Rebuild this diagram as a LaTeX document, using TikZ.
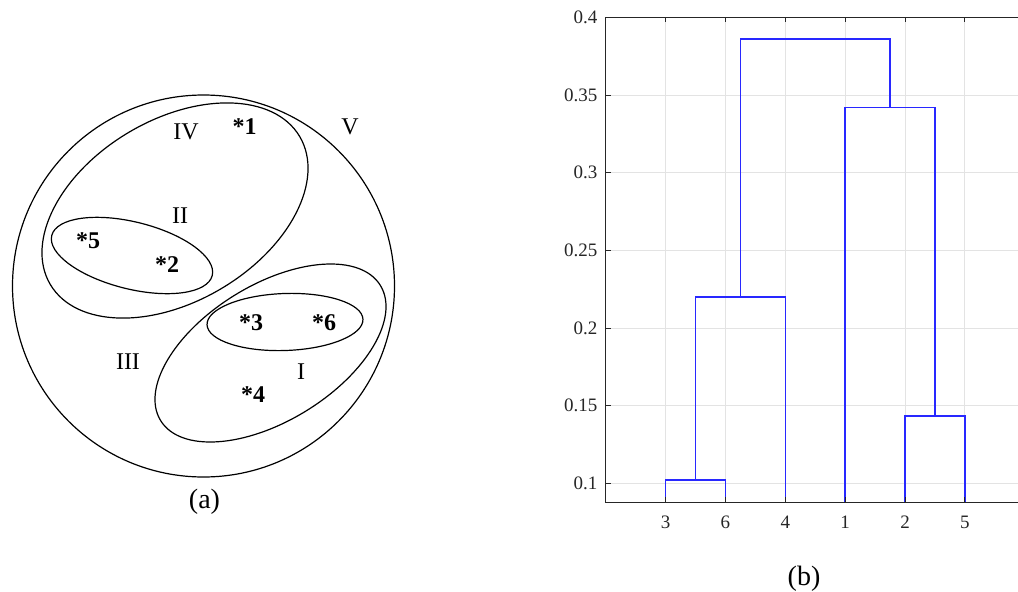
\documentclass[tikz,border=0pt]{standalone}
\usepackage{fontspec}
\setmainfont{Liberation Serif}
\definecolor{dendblue}{RGB}{40,40,255}
\begin{document}
\begin{tikzpicture}[x=1pt,y=-1pt,
  lbl/.style={font=\fontsize{24}{28}\selectfont, inner sep=0pt},
  pt/.style={font=\bfseries\fontsize{24}{28}\selectfont, inner sep=0pt},
  captxt/.style={font=\fontsize{28}{32}\selectfont, inner sep=0pt},
  setline/.style={draw=black, line width=1.2pt},
  ticklbl/.style={font=\fontsize{19}{22}\selectfont, text=black!85, inner sep=0pt},
  gridline/.style={draw=black!11, line width=0.8pt},
  dend/.style={draw=dendblue, line width=1.5pt},
  axisline/.style={draw=black!85, line width=1pt}]
\useasboundingbox (0,0) rectangle (1018,592);
% ---------- (a) ----------
\draw[setline] (203.5,286) circle (191);
\draw[setline, shift={(175,210.5)}, rotate=30.7] (0,0) ellipse (145 and 90.8);
\draw[setline, shift={(132,255.5)}, rotate=-14] (0,0) ellipse (82.7 and 33.5);
\draw[setline, shift={(270.5,353)}, rotate=31.6] (0,0) ellipse (129 and 68);
\draw[setline, shift={(285,322)}, rotate=2] (0,0) ellipse (78 and 28.5);
\node[lbl] (lIV) at (186,131.5) {IV};
\node[pt] (p1) at (244.5,127) {*1};
\node[lbl] (lV) at (350,127) {V};
\node[lbl] (lII) at (180,216) {II};
\node[pt] (p5) at (88,241) {*5};
\node[pt] (p2) at (167,265) {*2};
\node[lbl] (lIII) at (128,362) {III};
\node[pt] (p3) at (251,323) {*3};
\node[pt] (p6) at (324,323) {*6};
\node[lbl] (lI) at (301,372) {I};
\node[pt] (p4) at (253,395) {*4};
\node[captxt] (capa) at (204.5,501.5) {(a)};
% ---------- (b) ----------
\foreach \x in {665.5,725.4,785.3,845.1,905,964.8}
  \draw[gridline] (\x,17) -- (\x,502.3);
\foreach \y in {95.3,172.3,250,328.3,405.7,483}
  \draw[gridline] (605.7,\y) -- (1018,\y);
% dendrogram
\draw[dend] (665.5,502.3) -- (665.5,480) -- (725.4,480) -- (725.4,502.3);
\draw[dend] (695.45,480) -- (695.45,297.2) -- (785.3,297.2) -- (785.3,502.3);
\draw[dend] (905,502.3) -- (905,416.2) -- (964.8,416.2) -- (964.8,502.3);
\draw[dend] (845.1,502.3) -- (845.1,107.6) -- (934.9,107.6) -- (934.9,416.2);
\draw[dend] (740.4,297.2) -- (740.4,38.8) -- (890,38.8) -- (890,107.6);
% axes
\draw[axisline] (1018,17) -- (605.7,17) -- (605.7,502.3) -- (1018,502.3);
\foreach \x in {665.5,725.4,785.3,845.1,905,964.8} {
  \draw[axisline] (\x,17) -- (\x,22);
  \draw[axisline] (\x,502.3) -- (\x,497.3);
}
\foreach \y in {95.3,172.3,250,328.3,405.7,483}
  \draw[axisline] (605.7,\y) -- (610.7,\y);
\foreach \y/\t [count=\i] in {17/0.4,95.3/0.35,172.3/0.3,250/0.25,328.3/0.2,405.7/0.15,483/0.1}
  \node[ticklbl, anchor=east] (yl\i) at (597.5,\y) {\t};
\foreach \x/\t [count=\i] in {665.5/3,725.4/6,785.3/4,845.1/1,905/2,964.8/5}
  \node[ticklbl] (xl\i) at (\x,522) {\t};
\node[captxt] (capb) at (804,579) {(b)};
\end{tikzpicture}
\end{document}
